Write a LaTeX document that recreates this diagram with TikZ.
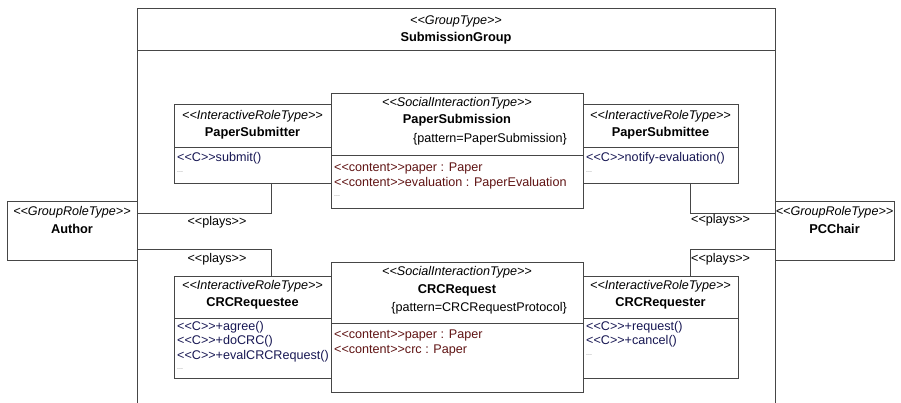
\documentclass[tikz,border=0pt]{standalone}
\usepackage{fontspec}
\setmainfont{Liberation Sans}[Ligatures=TeXOff]
\definecolor{opc}{RGB}{24,24,84}
\definecolor{attrc}{RGB}{96,20,20}
\definecolor{linec}{RGB}{70,70,70}
\begin{document}
\begin{tikzpicture}[x=1pt,y=-1pt,
 line/.style={draw=linec, line width=0.9pt},
 box/.style={line, fill=white, anchor=north west, inner sep=0pt, outer sep=0pt},
 txt/.style={inner sep=0pt, font=\fontsize{12.6}{14}\selectfont, text height=9pt, text depth=2.6pt},
 stereo/.style={txt, font=\fontsize{12.6}{14}\selectfont\itshape},
 cname/.style={txt, font=\fontsize{12.8}{14}\selectfont\bfseries},
 op/.style={txt, anchor=west, text=opc},
 attr/.style={txt, anchor=west, text=attrc},
 dots/.style={inner sep=0pt, anchor=west, font=\fontsize{7}{8}\selectfont, text=black!50},
 pat/.style={txt, anchor=east}
]
\useasboundingbox (0,0) rectangle (901,403);
\clip (0,0) rectangle (901,403);
\fill[white] (0,0) rectangle (901,403);

% group
\node[box, fill=none, minimum width=638pt, minimum height=420pt] (grp) at (137,8) {};
\draw[line] (grp.west |- 0,50) -- (grp.east |- 0,50);
\node[stereo] (grpst) at (456,21) {<<GroupType>>};
\node[cname] (grpnm) at (456,38) {SubmissionGroup};

% group roles
\node[box, minimum width=130pt, minimum height=59pt] (author) at (7,201) {};
\node[stereo] (authst) at (72,212) {<<GroupRoleType>>};
\node[cname] (authnm) at (72,230) {Author};
\node[box, minimum width=119pt, minimum height=59pt] (pcc) at (775,201) {};
\node[stereo] (pccst) at (834.5,212) {<<GroupRoleType>>};
\node[cname] (pccnm) at (834.5,230) {PCChair};

% PaperSubmitter
\node[box, minimum width=157pt, minimum height=79pt] (psr) at (174,104) {};
\draw[line] (psr.west |- 0,147) -- (psr.east |- 0,147);
\node[stereo] (psrst) at (252.5,116) {<<InteractiveRoleType>>};
\node[cname] (psrnm) at (252.5,133) {PaperSubmitter};
\node[op] (psrop1) at (177,158) {<<C>>submit()};
\node[dots] (psrd) at (177,172) {...};

% PaperSubmission
\node[box, minimum width=252pt, minimum height=115pt] (psn) at (331,93) {};
\draw[line] (psn.west |- 0,155) -- (psn.east |- 0,155);
\node[stereo] (psnst) at (457,103) {<<SocialInteractionType>>};
\node[cname] (psnnm) at (457,120) {PaperSubmission};
\node[pat] (psnpt) at (567,139) {\{pattern=PaperSubmission\}};
\node[attr] (psna1) at (334,168) {<<content>>paper : Paper};
\node[attr] (psna2) at (334,183) {<<content>>evaluation : PaperEvaluation};
\node[dots] (psnd) at (334,196) {...};

% PaperSubmittee
\node[box, minimum width=155pt, minimum height=79pt] (pse) at (583,104) {};
\draw[line] (pse.west |- 0,147) -- (pse.east |- 0,147);
\node[stereo] (psest) at (660.5,116) {<<InteractiveRoleType>>};
\node[cname] (psenm) at (660.5,133) {PaperSubmittee};
\node[op] (pseop1) at (586,158) {<<C>>notify-evaluation()};
\node[dots] (psed) at (586,172) {...};

% CRCRequestee
\node[box, minimum width=157pt, minimum height=102pt] (crq) at (174,276) {};
\draw[line] (crq.west |- 0,318) -- (crq.east |- 0,318);
\node[stereo] (crqst) at (252.5,286) {<<InteractiveRoleType>>};
\node[cname] (crqnm) at (252.5,303) {CRCRequestee};
\node[op] (crqop1) at (177,327) {<<C>>+agree()};
\node[op] (crqop2) at (177,341.5) {<<C>>+doCRC()};
\node[op] (crqop3) at (177,356) {<<C>>+evalCRCRequest()};
\node[dots] (crqd) at (177,369) {...};

% CRCRequest
\node[box, minimum width=252pt, minimum height=130pt] (crn) at (331,262) {};
\draw[line] (crn.west |- 0,323) -- (crn.east |- 0,323);
\node[stereo] (crnst) at (457,272) {<<SocialInteractionType>>};
\node[cname] (crnnm) at (457,290) {CRCRequest};
\node[pat] (crnpt) at (567,308) {\{pattern=CRCRequestProtocol\}};
\node[attr] (crna1) at (334,335) {<<content>>paper : Paper};
\node[attr] (crna2) at (334,350) {<<content>>crc : Paper};

% CRCRequester
\node[box, minimum width=155pt, minimum height=102pt] (crr) at (583,276) {};
\draw[line] (crr.west |- 0,318) -- (crr.east |- 0,318);
\node[stereo] (crrst) at (660.5,286) {<<InteractiveRoleType>>};
\node[cname] (crrnm) at (660.5,303) {CRCRequester};
\node[op] (crrop1) at (586,327) {<<C>>+request()};
\node[op] (crrop2) at (586,341.5) {<<C>>+cancel()};
\node[dots] (crrd) at (586,355) {...};

% plays connectors
\draw[line] ([xshift=97pt]psr.south west) |- ([yshift=-12pt]author.north east);
\draw[line] ([yshift=-48pt]author.north east) -| ([xshift=97pt]crq.north west);
\draw[line] ([xshift=107pt]pse.south west) |- ([yshift=-12pt]pcc.north west);
\draw[line] ([yshift=-48pt]pcc.north west) -| ([xshift=107pt]crr.north west);
\node[txt] (pl1) at (217,222) {<<plays>>};
\node[txt] (pl2) at (217,259) {<<plays>>};
\node[txt, anchor=west] (pl3) at (691,220) {<<plays>>};
\node[txt, anchor=west] (pl4) at (691,259) {<<plays>>};
\end{tikzpicture}
\end{document}
